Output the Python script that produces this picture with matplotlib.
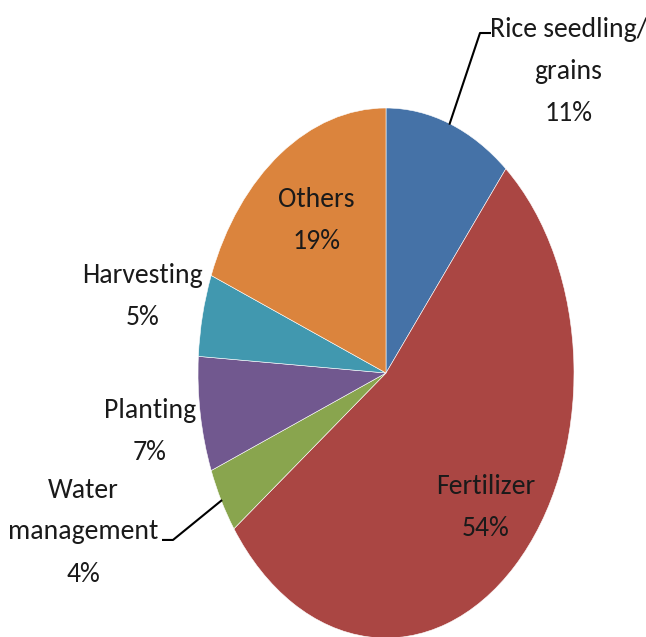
import matplotlib
matplotlib.use("Agg")
import matplotlib.pyplot as plt
from matplotlib import font_manager
import numpy as np

categories = ["Rice seedling/\ngrains", "Fertilizer", "Water\nmanagement", "Planting", "Harvesting", "Others"]
values = [11, 54, 4, 7, 5, 19]
colors = ["#4572A7", "#AA4643", "#89A54E", "#71588F", "#4198AF", "#DB843D"]

# label positions (data coords of the unit pie)
label_pos = [(0.97, 1.136), (0.532, -0.509), (-1.612, -0.60), (-1.255, -0.219), (-1.293, 0.287), (-0.372, 0.577)]
leader = [True, False, True, False, False, False]

names = {f.name for f in font_manager.fontManager.ttflist}
fam = next((f for f in ["Carlito", "PT Sans Narrow", "Liberation Sans"] if f in names), "DejaVu Sans")

fig = plt.figure(figsize=(6.46, 6.37), dpi=100)
ax = fig.add_axes([198 / 646, -1 / 637, 376 / 646, 530 / 637])
wedges, _ = ax.pie(values, colors=colors, startangle=90, counterclock=False,
                   wedgeprops=dict(edgecolor="white", linewidth=0.4))
ax.set_aspect("auto")
ax.set_xlim(-1, 1)
ax.set_ylim(-1, 1)
ax.axis("off")

total = sum(values)
cum = 0
for i, (cat, v) in enumerate(zip(categories, values)):
    mid = 90 - (cum + v / 2) / total * 360
    cum += v
    tx, ty = label_pos[i]
    ax.text(tx, ty, f"{cat}\n{v}%", ha="center", va="center", fontsize=20,
            family=fam, color="#1a1a1a", linespacing=1.85, clip_on=False)
    if leader[i]:
        ex, ey = np.cos(np.radians(mid)), np.sin(np.radians(mid))
        if tx > 0:
            pts = [(ex, ey), (0.50, 1.283), (0.553, 1.283)]
        else:
            pts = [(ex, ey), (-1.133, -0.630), (-1.186, -0.630)]
        xs, ys = zip(*pts)
        ax.plot(xs, ys, color="black", lw=1.5, clip_on=False)

fig.savefig("out.png", dpi=100)
